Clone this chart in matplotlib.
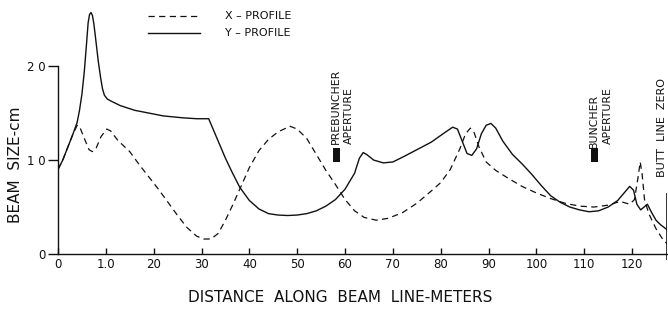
import matplotlib
matplotlib.use("Agg")
import matplotlib.pyplot as plt
from matplotlib.patches import Rectangle
from matplotlib.lines import Line2D

# --- data (distance in m, beam size in cm) ---
y_dist = [0, 1, 2, 3, 4, 4.5, 5, 5.5, 6, 6.3, 6.6, 6.9, 7.2, 7.5, 7.9, 8.4,
          8.9, 9.3, 9.7, 10.3, 11, 13, 16, 19, 22, 26, 29, 31.5, 33, 35,
          36.5, 38, 40, 42, 44, 46, 48, 50, 52, 54, 56, 58, 60, 62, 63, 63.8,
          64.5, 66, 68, 70, 72, 75, 78, 80.5, 82.5, 83.5, 84.5, 85.5, 86.5,
          87.5, 88.5, 89.5, 90.5, 91.5, 93, 95, 97, 99, 101, 103, 105, 107,
          109, 111, 113, 115, 117, 118.5, 119.5, 120.3, 121, 121.8, 122.5,
          123.2, 124, 125, 126, 127.3]
y_size = [9.0, 10.0, 11.3, 12.6, 14.0, 15.3, 17.0, 19.4, 22.6, 24.6, 25.5,
          25.7, 25.4, 24.5, 22.8, 20.6, 18.8, 17.6, 16.9, 16.5, 16.3, 15.8,
          15.3, 15.0, 14.7, 14.5, 14.4, 14.4, 12.6, 10.2, 8.6, 7.1, 5.7, 4.8,
          4.3, 4.15, 4.1, 4.15, 4.3, 4.6, 5.1, 5.8, 6.9, 8.6, 10.2, 10.8, 10.6,
          10.0, 9.7, 9.8, 10.3, 11.1, 11.9, 12.8, 13.5, 13.3, 12.0, 10.7, 10.5,
          11.2, 12.8, 13.7, 13.9, 13.4, 12.0, 10.6, 9.6, 8.5, 7.3, 6.2, 5.5,
          5.0, 4.7, 4.5, 4.6, 5.0, 5.7, 6.6, 7.2, 6.8, 5.3, 4.7, 5.0, 5.3, 4.5,
          3.6, 3.1, 2.6]

x_dist = [0, 1, 2, 3, 4, 4.5, 5.5, 6.5, 7.2, 8, 9, 10.2, 11, 12.5, 15, 17, 19,
          21, 23, 25, 27, 29, 30.5, 32, 33.5, 35, 36.5, 38, 40, 42, 44, 46,
          48.5, 50, 52, 54, 56, 58, 60, 62, 64, 66.5, 69, 72, 75, 78, 80, 82,
          84, 85.2, 86.2, 87, 88, 89.5, 91.5, 94, 97, 100, 103, 106, 109, 112,
          115, 117.5, 119.5, 120.5, 121.2, 121.7, 122.1, 122.6, 123.5, 125,
          126.5, 127.3]
x_size = [9.0, 10.0, 11.3, 12.6, 13.7, 13.6, 12.3, 11.1, 10.9, 11.3, 12.5,
          13.3, 13.1, 12.1, 10.9, 9.5, 8.2, 6.9, 5.5, 4.1, 2.8, 1.9, 1.6, 1.6,
          2.2, 3.6, 5.2, 6.9, 9.2, 11.0, 12.2, 13.0, 13.6, 13.3, 12.3, 10.6,
          8.9, 7.4, 5.8, 4.6, 3.9, 3.6, 3.8, 4.4, 5.4, 6.7, 7.6, 9.0, 11.2,
          12.8, 13.4, 12.9, 11.4, 9.8, 8.9, 8.1, 7.2, 6.5, 5.9, 5.4, 5.1, 5.0,
          5.2, 5.6, 5.3, 5.8, 8.0, 9.8, 8.5, 5.8, 4.3, 2.7, 1.5, 1.1]

x_ticks = [0, 10, 20, 30, 40, 50, 60, 70, 80, 90, 100, 110, 120]
x_labels = ["0", "1.0", "20", "30", "40", "50", "60", "70", "80", "90",
            "100", "110", "120"]
y_ticks = [0, 10, 20]
y_labels = ["0", "1 0", "2 0"]

PREBUNCHER_X = 58.2
BUNCHER_X = 112.2
BUTT_X = 127.3

INK = "#111111"
plt.rcParams["font.family"] = ["DejaVu Sans"]

fig = plt.figure(figsize=(6.68, 3.14), dpi=100, facecolor="white")
ax = fig.add_axes([0.0868, 0.170, 0.9117, 0.814])
ax.set_xlim(0, 127.3)
ax.set_ylim(-0.7, 26.5)

dash = (0, (5, 3.5))
ax.plot(x_dist, x_size, color=INK, lw=0.9, linestyle=dash)
ax.plot(y_dist, y_size, color=INK, lw=1.0)

# axes: L-shaped frame, y spine only up to 20
for s in ["top", "right"]:
    ax.spines[s].set_visible(False)
ax.spines["left"].set_bounds(0, 20)
ax.spines["bottom"].set_position(("data", 0))
for s in ["left", "bottom"]:
    ax.spines[s].set_linewidth(1.0)
    ax.spines[s].set_color(INK)

ax.set_xticks(x_ticks)
ax.set_xticklabels(x_labels)
ax.set_yticks(y_ticks)
ax.set_yticklabels(y_labels)
ax.tick_params(axis="x", direction="in", length=4, width=1.0, pad=3,
               labelsize=8.5, colors=INK)
ax.tick_params(axis="y", direction="out", length=7, width=1.0, pad=2,
               labelsize=8.5, colors=INK)

# butt line zero marker
ax.vlines(BUTT_X, -0.6, 6.5, color=INK, lw=1.2)
ax.text(126.3, 8.2, "BUTT  LINE  ZERO", rotation=90, ha="center", va="bottom",
        fontsize=8, color=INK)

# apertures
for xc, name, ybot in [(PREBUNCHER_X, "PREBUNCHER", 11.7),
                       (BUNCHER_X, "BUNCHER", 11.3)]:
    ax.add_patch(Rectangle((xc - 0.7, 9.8), 1.4, 1.5, color=INK, lw=0))
    ax.text(xc - 0.1, ybot, name, rotation=90, ha="center", va="bottom",
            fontsize=7.8, color=INK)
    ax.text(xc + 2.7, 11.7, "APERTURE", rotation=90, ha="center",
            va="bottom", fontsize=7.8, color=INK)

# hand-drawn style legend
fig.add_artist(Line2D([148 / 668, 200 / 668], [1 - 16 / 314, 1 - 16 / 314],
                      color=INK, lw=0.9, linestyle=dash))
fig.add_artist(Line2D([148 / 668, 200 / 668], [1 - 33 / 314, 1 - 33 / 314],
                      color=INK, lw=1.0))
fig.text(225 / 668, 1 - 16 / 314, "X – PROFILE", fontsize=8, va="center",
         color=INK)
fig.text(225 / 668, 1 - 33 / 314, "Y – PROFILE", fontsize=8, va="center",
         color=INK)

fig.text(16 / 668, 1 - 165 / 314, "BEAM  SIZE-cm", rotation=90, ha="center",
         va="center", fontsize=11, color=INK)
fig.text(340 / 668, 1 - 298 / 314, "DISTANCE  ALONG  BEAM  LINE-METERS",
         ha="center", va="center", fontsize=11, color=INK)

fig.savefig("out.png", dpi=100, facecolor="white")
